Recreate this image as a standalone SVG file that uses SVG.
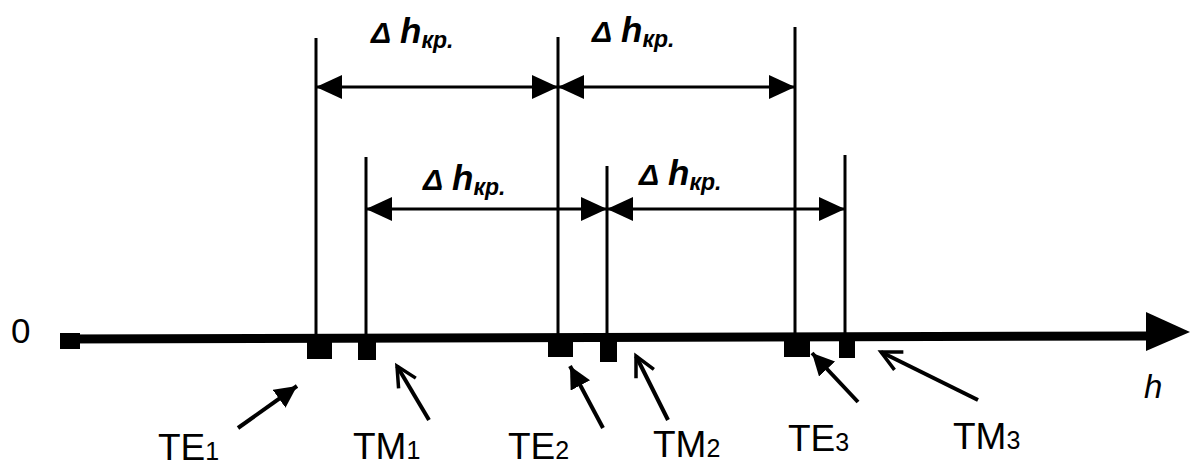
<svg xmlns="http://www.w3.org/2000/svg" width="1190" height="467" viewBox="0 0 1190 467">
<style>
.ln{stroke:#000;stroke-width:3;fill:none}
.ax{stroke:#000;stroke-width:9;fill:none}
.ptr{stroke:#000;stroke-width:4;fill:none}
.lbl{font-family:"Liberation Sans",Arial,sans-serif;font-size:37px;fill:#000}
.sub{font-size:25px}
.dim{font-family:"Liberation Sans",Arial,sans-serif;font-style:italic;font-weight:bold;font-size:35px;fill:#000}
.dsub{font-size:23px}
.dl{font-size:30px}
</style>
<defs>
<marker id="dimA" markerUnits="userSpaceOnUse" markerWidth="28" markerHeight="26" refX="26" refY="12" orient="auto-start-reverse">
<path d="M0,0 L26,12 L0,24 Z" fill="#000"/>
</marker>
<marker id="fillA" markerUnits="userSpaceOnUse" markerWidth="24" markerHeight="24" refX="22" refY="11" orient="auto">
<path d="M0,0 L22,11 L0,22 Z" fill="#000"/>
</marker>
<marker id="openA" markerUnits="userSpaceOnUse" markerWidth="26" markerHeight="26" refX="22" refY="12" orient="auto">
<path d="M2,2 L22,12 L2,22" fill="none" stroke="#000" stroke-width="3.5"/>
</marker>
</defs>

<g id="axis">
<line class="ax" x1="62" y1="339" x2="1150" y2="336"/>
<rect x="60" y="333" width="20" height="16" fill="#000"/>
<polygon points="1146,312 1190,332 1146,351" fill="#000"/>
<text x="11" y="343" font-family="Liberation Sans, Arial, sans-serif" font-size="35" fill="#000">0</text>
<text x="1144" y="398" font-family="Liberation Sans, Arial, sans-serif" font-style="italic" font-size="33" fill="#000">h</text>
</g>

<g id="TE1">
<rect x="307" y="336" width="25" height="23" fill="#000"/>
<text class="lbl" x="158" y="460">TE<tspan class="sub">1</tspan></text>
</g>
<g id="TM1">
<rect x="358" y="336" width="18" height="24" fill="#000"/>
<text class="lbl" x="353" y="459">TM<tspan class="sub">1</tspan></text>
</g>
<g id="TE2">
<rect x="548" y="336" width="25" height="21" fill="#000"/>
<text class="lbl" x="508" y="459">TE<tspan class="sub">2</tspan></text>
</g>
<g id="TM2">
<rect x="600" y="336" width="17" height="26" fill="#000"/>
<text class="lbl" x="653" y="457">TM<tspan class="sub">2</tspan></text>
</g>
<g id="TE3">
<rect x="784" y="334" width="26" height="23" fill="#000"/>
<text class="lbl" x="788" y="451">TE<tspan class="sub">3</tspan></text>
</g>
<g id="TM3">
<rect x="839" y="334" width="16" height="24" fill="#000"/>
<text class="lbl" x="953" y="449">TM<tspan class="sub">3</tspan></text>
</g>

<g id="extension-lines">
<line class="ln" x1="316" y1="38" x2="316" y2="340"/>
<line class="ln" x1="366" y1="157" x2="366" y2="340"/>
<line class="ln" x1="558" y1="37" x2="558" y2="340"/>
<line class="ln" x1="607" y1="166" x2="607" y2="340"/>
<line class="ln" x1="795" y1="27" x2="795" y2="340"/>
<line class="ln" x1="845" y1="155" x2="845" y2="340"/>
</g>

<g id="connectors">
<line class="ln" x1="316" y1="87" x2="558" y2="87" marker-start="url(#dimA)" marker-end="url(#dimA)"/>
<line class="ln" x1="558" y1="87" x2="795" y2="87" marker-start="url(#dimA)" marker-end="url(#dimA)"/>
<line class="ln" x1="366" y1="209" x2="607" y2="209" marker-start="url(#dimA)" marker-end="url(#dimA)"/>
<line class="ln" x1="607" y1="209" x2="845" y2="209" marker-start="url(#dimA)" marker-end="url(#dimA)"/>
<line class="ptr" x1="238" y1="428" x2="297" y2="386" marker-end="url(#fillA)"/>
<line class="ptr" x1="429" y1="420" x2="397" y2="366" marker-end="url(#openA)"/>
<line class="ptr" x1="603" y1="428" x2="570" y2="366" marker-end="url(#fillA)"/>
<line class="ptr" x1="668" y1="420" x2="636" y2="356" marker-end="url(#openA)"/>
<line class="ptr" x1="858" y1="402" x2="812" y2="353" marker-end="url(#fillA)"/>
<line class="ptr" x1="978" y1="400" x2="881" y2="352" marker-end="url(#openA)"/>
</g>

<g id="labels">
<text class="dim" x="371" y="43"><tspan class="dl">Δ</tspan><tspan x="400">h</tspan><tspan class="dsub" dy="5">кр.</tspan></text>
<text class="dim" x="592" y="42"><tspan class="dl">Δ</tspan><tspan x="621">h</tspan><tspan class="dsub" dy="5">кр.</tspan></text>
<text class="dim" x="423" y="190"><tspan class="dl">Δ</tspan><tspan x="452">h</tspan><tspan class="dsub" dy="5">кр.</tspan></text>
<text class="dim" x="639" y="185"><tspan class="dl">Δ</tspan><tspan x="668">h</tspan><tspan class="dsub" dy="5">кр.</tspan></text>
</g>
</svg>
